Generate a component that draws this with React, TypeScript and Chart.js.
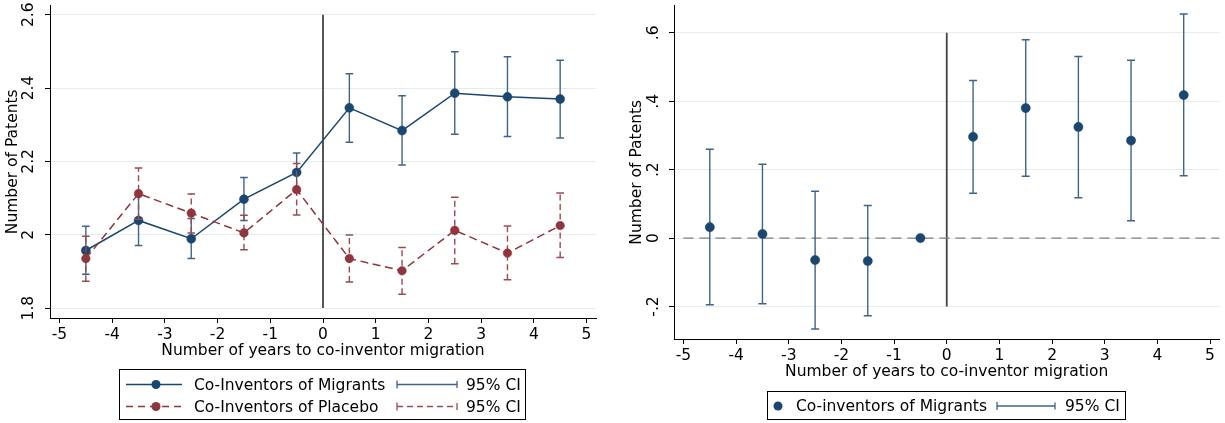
import React, { useEffect, useRef } from "react";
import { Chart, registerables } from "chart.js";

Chart.register(...registerables);

// ---------- data ----------
const years = [-4.5, -3.5, -2.5, -1.5, -0.5, 0.5, 1.5, 2.5, 3.5, 4.5];

const migrantsMean = [1.957, 2.039, 1.989, 2.097, 2.17, 2.346, 2.284, 2.386, 2.376, 2.37];
const migrantsLo = [1.892, 1.971, 1.935, 2.039, 2.117, 2.252, 2.19, 2.274, 2.268, 2.264];
const migrantsHi = [2.023, 2.107, 2.044, 2.156, 2.223, 2.439, 2.379, 2.499, 2.485, 2.476];

const placeboMean = [1.935, 2.112, 2.059, 2.005, 2.123, 1.935, 1.902, 2.012, 1.95, 2.025];
const placeboLo = [1.873, 2.042, 2.005, 1.959, 2.054, 1.871, 1.838, 1.921, 1.877, 1.938];
const placeboHi = [1.996, 2.182, 2.111, 2.053, 2.194, 1.999, 1.965, 2.102, 2.024, 2.114];

const diffMean = [0.032, 0.012, -0.064, -0.067, 0, 0.296, 0.38, 0.325, 0.285, 0.418];
const diffLo = [-0.195, -0.192, -0.266, -0.227, 0, 0.131, 0.181, 0.118, 0.051, 0.182];
const diffHi = [0.26, 0.216, 0.137, 0.095, 0, 0.461, 0.58, 0.531, 0.52, 0.655];

const xTicks = [-5, -4, -3, -2, -1, 0, 1, 2, 3, 4, 5];
const xTickLabels = ["-5", "-4", "-3", "-2", "-1", "0", "1", "2", "3", "4", "5"];
const leftYTicks = [1.8, 2, 2.2, 2.4, 2.6];
const leftYTickLabels = ["1.8", "2", "2.2", "2.4", "2.6"];
const rightYTicks = [-0.2, 0, 0.2, 0.4, 0.6];
const rightYTickLabels = ["-.2", "0", ".2", ".4", ".6"];

const xTitle = "Number of years to co-inventor migration";
const yTitle = "Number of Patents";
const leftLegendLabels = ["Co-Inventors of Migrants", "Co-Inventors of Placebo"];
const rightLegendLabel = "Co-inventors of Migrants";
const ciLabel = "95% CI";

// ---------- style ----------
const NAVY = "#1a476f";
const NAVY_CI = "#3f6489";
const MAROON = "#90353b";
const MAROON_CI = "#9b4a50";
const GRID = "#e6edef";
const VLINE = "#444444";
const FONT = "DejaVu Sans";
const FS = 15.5;

const ciSegments = (lo: number[], hi: number[]) =>
  years.flatMap((x, i) => [
    { x, y: lo[i] },
    { x, y: hi[i] },
    { x, y: null as any },
  ]);
const capPoints = (lo: number[], hi: number[]) =>
  years.flatMap((x, i) => [
    { x, y: lo[i] },
    { x, y: hi[i] },
  ]);

function makeScales(opts: {
  yMin: number; yMax: number; yTicks: number[]; yLabels: string[];
  yWidth: number; yTitlePad: number; yTickPad: number;
  xHeight: number; xTitlePadBottom: number;
}) {
  return {
    x: {
      type: "linear",
      min: -5.18,
      max: 5.18,
      afterBuildTicks: (s: any) => { s.ticks = xTicks.map((v) => ({ value: v })); },
      afterFit: (s: any) => {
        s.height = opts.xHeight;
        s.paddingLeft = 0; s.paddingRight = 0; s.paddingTop = 0; s.paddingBottom = 0;
      },
      ticks: {
        callback: (v: any) => xTickLabels[xTicks.indexOf(Math.round(v))],
        font: { family: FONT, size: FS },
        color: "#000",
        padding: 2.5,
        maxRotation: 0,
        minRotation: 0,
        autoSkip: false,
      },
      grid: { drawOnChartArea: false, drawTicks: true, tickLength: 5, tickColor: "#000" },
      border: { display: true, color: "#000", width: 1 },
      title: {
        display: true,
        text: xTitle,
        color: "#000",
        font: { family: FONT, size: FS, lineHeight: 1.2 },
        padding: { top: 0, bottom: opts.xTitlePadBottom },
      },
    },
    y: {
      type: "linear",
      min: opts.yMin,
      max: opts.yMax,
      afterBuildTicks: (s: any) => { s.ticks = opts.yTicks.map((v) => ({ value: v })); },
      afterFit: (s: any) => {
        s.width = opts.yWidth;
        s.paddingLeft = 0; s.paddingRight = 0; s.paddingTop = 0; s.paddingBottom = 0;
      },
      ticks: {
        callback: (v: any) => {
          const i = opts.yTicks.findIndex((t) => Math.abs(t - v) < 1e-6);
          return i >= 0 ? opts.yLabels[i] : "";
        },
        font: { family: FONT, size: FS },
        color: "#000",
        minRotation: 90,
        maxRotation: 90,
        crossAlign: "center",
        padding: opts.yTickPad,
        autoSkip: false,
      },
      grid: { color: GRID, lineWidth: 1, tickLength: 5, tickColor: "#000" },
      border: { display: true, color: "#000", width: 1 },
      title: {
        display: true,
        text: yTitle,
        color: "#000",
        font: { family: FONT, size: FS, lineHeight: 1.2 },
        padding: { top: opts.yTitlePad, bottom: 0 },
      },
    },
  };
}

function drawCiSymbol(ctx: CanvasRenderingContext2D, x1: number, x2: number, y: number, color: string, dashed: boolean) {
  ctx.save();
  ctx.strokeStyle = color;
  ctx.lineWidth = 1.3;
  ctx.beginPath();
  ctx.moveTo(x1, y - 4);
  ctx.lineTo(x1, y + 4);
  ctx.moveTo(x2, y - 3.5);
  ctx.lineTo(x2, y + 3.5);
  ctx.stroke();
  if (dashed) ctx.setLineDash([6, 4]);
  ctx.beginPath();
  ctx.moveTo(x1, y);
  ctx.lineTo(x2, y);
  ctx.stroke();
  ctx.restore();
}

function drawDot(ctx: CanvasRenderingContext2D, x: number, y: number, color: string) {
  ctx.save();
  ctx.fillStyle = color;
  ctx.beginPath();
  ctx.arc(x, y, 4.5, 0, Math.PI * 2);
  ctx.fill();
  ctx.restore();
}

const leftLegendPlugin = {
  id: "leftLegend",
  afterDraw(chart: any) {
    const ctx: CanvasRenderingContext2D = chart.ctx;
    ctx.save();
    ctx.strokeStyle = "#000";
    ctx.lineWidth = 1;
    ctx.strokeRect(119.5, 369.5, 406, 50);
    ctx.font = `${FS}px "${FONT}"`;
    ctx.fillStyle = "#000";
    ctx.textBaseline = "middle";
    ctx.textAlign = "left";
    const rows = [
      { y: 384.5, color: NAVY, ci: NAVY_CI, dashed: false, label: leftLegendLabels[0] },
      { y: 406.5, color: MAROON, ci: MAROON_CI, dashed: true, label: leftLegendLabels[1] },
    ];
    for (const r of rows) {
      ctx.save();
      ctx.strokeStyle = r.color;
      ctx.lineWidth = 1.4;
      if (r.dashed) ctx.setLineDash([7, 5]);
      ctx.beginPath();
      ctx.moveTo(126, r.y);
      ctx.lineTo(182, r.y);
      ctx.stroke();
      ctx.restore();
      drawDot(ctx, 156, r.y, r.color);
      ctx.fillStyle = "#000";
      ctx.fillText(r.label, 194, r.y + 1);
      drawCiSymbol(ctx, 397, 457, r.y, r.ci, r.dashed);
      ctx.fillText(ciLabel, 466, r.y + 1);
    }
    ctx.restore();
  },
};

const rightLegendPlugin = {
  id: "rightLegend",
  afterDraw(chart: any) {
    const ctx: CanvasRenderingContext2D = chart.ctx;
    ctx.save();
    ctx.strokeStyle = "#000";
    ctx.lineWidth = 1;
    ctx.strokeRect(155.5, 391.5, 358, 28);
    ctx.font = `${FS}px "${FONT}"`;
    ctx.fillStyle = "#000";
    ctx.textBaseline = "middle";
    ctx.textAlign = "left";
    const y = 406;
    drawDot(ctx, 166, y, NAVY);
    ctx.fillStyle = "#000";
    ctx.fillText(rightLegendLabel, 184, y + 1);
    drawCiSymbol(ctx, 385, 443, y, NAVY_CI, false);
    ctx.fillText(ciLabel, 453, y + 1);
    ctx.restore();
  },
};

function LeftChart() {
  const ref = useRef<HTMLCanvasElement>(null);
  useEffect(() => {
    if (!ref.current) return;
    const chart = new Chart(ref.current, {
      type: "line",
      data: {
        datasets: [
          {
            label: "placebo",
            data: years.map((x, i) => ({ x, y: placeboMean[i] })),
            borderColor: MAROON,
            borderWidth: 1.5,
            borderDash: [8, 4.5],
            pointRadius: 4.3,
            pointBackgroundColor: MAROON,
            pointBorderColor: MAROON,
            pointBorderWidth: 0.5,
            tension: 0,
          },
          {
            label: "placeboCaps",
            data: capPoints(placeboLo, placeboHi),
            showLine: false,
            pointStyle: "line",
            pointRadius: 3.8,
            pointBorderColor: MAROON_CI,
            pointBorderWidth: 1.5,
          },
          {
            label: "placeboCI",
            data: ciSegments(placeboLo, placeboHi),
            borderColor: MAROON_CI,
            borderWidth: 1.4,
            borderDash: [6, 3.5],
            pointRadius: 0,
            spanGaps: false,
          },
          {
            label: "migrants",
            data: years.map((x, i) => ({ x, y: migrantsMean[i] })),
            borderColor: NAVY,
            borderWidth: 1.5,
            pointRadius: 4.5,
            pointBackgroundColor: NAVY,
            pointBorderColor: NAVY,
            pointBorderWidth: 0.5,
            tension: 0,
          },
          {
            label: "migrantsCaps",
            data: capPoints(migrantsLo, migrantsHi),
            showLine: false,
            pointStyle: "line",
            pointRadius: 3.8,
            pointBorderColor: NAVY_CI,
            pointBorderWidth: 1.5,
          },
          {
            label: "migrantsCI",
            data: ciSegments(migrantsLo, migrantsHi),
            borderColor: NAVY_CI,
            borderWidth: 1.4,
            pointRadius: 0,
            spanGaps: false,
          },
          {
            label: "zeroLine",
            data: [{ x: 0, y: 1.8 }, { x: 0, y: 2.6 }],
            borderColor: VLINE,
            borderWidth: 1.8,
            pointRadius: 0,
          },
        ] as any,
      },
      options: {
        animation: false,
        responsive: false,
        events: [],
        layout: { padding: { left: 0, top: 4, right: 16, bottom: 0 } },
        plugins: { legend: { display: false }, tooltip: { enabled: false } },
        scales: makeScales({
          yMin: 1.773, yMax: 2.625, yTicks: leftYTicks, yLabels: leftYTickLabels,
          yWidth: 50, yTitlePad: 3.2, yTickPad: 3.7, xHeight: 105, xTitlePadBottom: 63,
        }) as any,
      },
      plugins: [leftLegendPlugin],
    });
    return () => chart.destroy();
  }, []);
  return (
    <canvas
      ref={ref}
      width={612}
      height={423}
      style={{ position: "absolute", left: 0, top: 0, width: 612, height: 423 }}
    />
  );
}

function RightChart() {
  const ref = useRef<HTMLCanvasElement>(null);
  useEffect(() => {
    if (!ref.current) return;
    const chart = new Chart(ref.current, {
      type: "line",
      data: {
        datasets: [
          {
            label: "diff",
            data: years.map((x, i) => ({ x, y: diffMean[i] })),
            showLine: false,
            pointRadius: 4.6,
            pointBackgroundColor: NAVY,
            pointBorderColor: NAVY,
            pointBorderWidth: 0.5,
          },
          {
            label: "diffCaps",
            data: capPoints(diffLo, diffHi),
            showLine: false,
            pointStyle: "line",
            pointRadius: 4,
            pointBorderColor: NAVY_CI,
            pointBorderWidth: 1.5,
          },
          {
            label: "diffCI",
            data: ciSegments(diffLo, diffHi),
            borderColor: NAVY_CI,
            borderWidth: 1.4,
            pointRadius: 0,
            spanGaps: false,
          },
          {
            label: "hzero",
            data: [{ x: -5, y: 0 }, { x: 5.18, y: 0 }],
            borderColor: "#808080",
            borderWidth: 1.4,
            borderDash: [10, 6],
            pointRadius: 0,
          },
          {
            label: "vzero",
            data: [{ x: 0, y: -0.2 }, { x: 0, y: 0.6 }],
            borderColor: VLINE,
            borderWidth: 1.8,
            pointRadius: 0,
          },
        ] as any,
      },
      options: {
        animation: false,
        responsive: false,
        events: [],
        layout: { padding: { left: 0, top: 5, right: 5, bottom: 0 } },
        plugins: { legend: { display: false }, tooltip: { enabled: false } },
        scales: makeScales({
          yMin: -0.295, yMax: 0.68, yTicks: rightYTicks, yLabels: rightYTickLabels,
          yWidth: 62, yTitlePad: 15.7, yTickPad: 4.8, xHeight: 84, xTitlePadBottom: 41.5,
        }) as any,
      },
      plugins: [rightLegendPlugin],
    });
    return () => chart.destroy();
  }, []);
  return (
    <canvas
      ref={ref}
      width={613}
      height={423}
      style={{ position: "absolute", left: 612, top: 0, width: 613, height: 423 }}
    />
  );
}

export default function App() {
  return (
    <div style={{ position: "absolute", left: 0, top: 0, width: 1225, height: 423, background: "#fff" }}>
      <LeftChart />
      <RightChart />
    </div>
  );
}
